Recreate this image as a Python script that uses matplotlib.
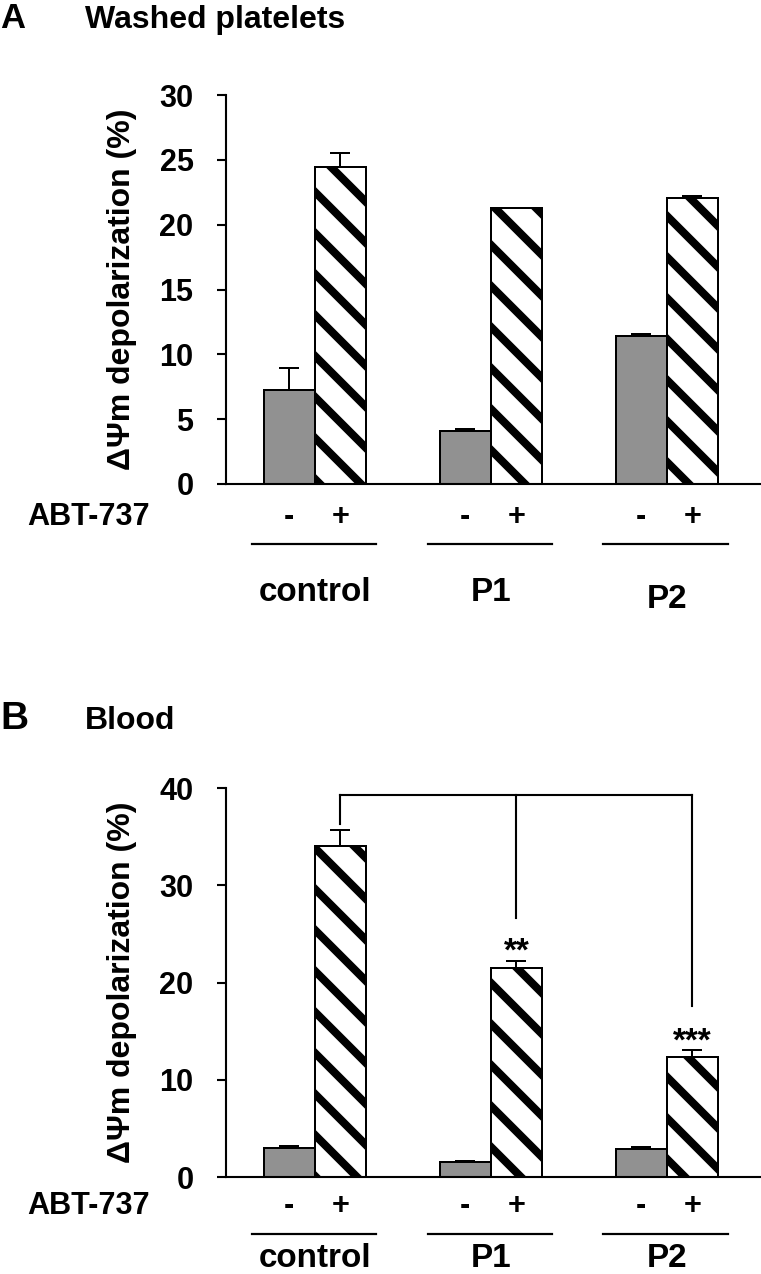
import numpy as np
import matplotlib
matplotlib.use("Agg")
import matplotlib.pyplot as plt
from matplotlib.transforms import blended_transform_factory

# values
groups = ["control", "P1", "P2"]
treat_labels = ["-", "+"]

wash_minus = [7.25, 4.12, 11.4]
wash_minus_err = [1.7, 0.15, 0.18]
wash_plus = [24.45, 21.28, 22.03]
wash_plus_err = [1.05, 0.03, 0.15]

blood_minus = [3.0, 1.5, 2.9]
blood_minus_err = [0.15, 0.2, 0.2]
blood_plus = [34.0, 21.5, 12.3]
blood_plus_err = [1.7, 0.75, 0.75]

bracket_top = 39.3
bracket_drops = [36.3, 26.6, 17.6]
stars = ["", "**", "***"]

# dpi chosen so the hatch spacing matches the reference
DPI = 246
W, H = 761, 1274


def pt(px):
    """pixels -> points at the output dpi"""
    return px * 72.0 / DPI


plt.rcParams["font.family"] = ["Liberation Sans", "DejaVu Sans"]
plt.rcParams["font.weight"] = "bold"
plt.rcParams["hatch.linewidth"] = pt(8)
plt.rcParams["hatch.color"] = "black"

GRAY = "#919191"
BW = 0.29
YLABEL = "\u0394\u03a8m depolarization (%)"

fig = plt.figure(figsize=(W / DPI, H / DPI), dpi=DPI, facecolor="white")
ax_a = fig.add_axes([0.297, 0.6201, 0.703, 0.3053])
ax_b = fig.add_axes([0.297, 0.0761, 0.703, 0.3053])


def draw_panel(ax, minus, minus_err, plus, plus_err, ymax, ystep,
               y_abt, y_line, y_grp):
    x = np.arange(len(groups))
    xm = x - BW / 2
    xp = x + BW / 2
    ax.bar(xm, minus, width=BW, color=GRAY, edgecolor="black", linewidth=pt(2), zorder=2)
    ax.bar(xp, plus, width=BW, color="white", edgecolor="black", linewidth=pt(2),
           hatch="\\\\", zorder=2)
    ax.errorbar(xm, minus, yerr=[np.zeros(len(x)), minus_err], fmt="none",
                ecolor="black", elinewidth=pt(2), capsize=pt(10), capthick=pt(2), zorder=3)
    ax.errorbar(xp, plus, yerr=[np.zeros(len(x)), plus_err], fmt="none",
                ecolor="black", elinewidth=pt(2), capsize=pt(10), capthick=pt(2), zorder=3)

    ax.set_xlim(-0.505, 2.535)
    ax.set_ylim(0, ymax)
    ax.set_yticks(np.arange(0, ymax + 1, ystep))
    ax.set_xticks([])
    for s in ["top", "right"]:
        ax.spines[s].set_visible(False)
    for s in ["left", "bottom"]:
        ax.spines[s].set_linewidth(pt(2.1))
    ax.tick_params(axis="y", direction="out", length=pt(9), width=pt(2.1), pad=pt(23.5),
                   labelsize=pt(30.6))
    for lab in ax.get_yticklabels():
        lab.set_fontweight("bold")
    ax.set_ylabel(YLABEL, fontsize=pt(32), fontweight="bold", va="center")
    ax.yaxis.set_label_coords(-0.195, 0.5)

    tr = blended_transform_factory(ax.transData, ax.transAxes)
    ax.text(-0.372, y_abt, "ABT-737", transform=ax.transAxes, ha="left",
            va="center", fontsize=pt(30.6), fontweight="bold")
    for i, g in enumerate(groups):
        ax.text(xm[i], y_abt, treat_labels[0], transform=tr, ha="center",
                va="center", fontsize=pt(30.6), fontweight="bold")
        ax.text(xp[i], y_abt, treat_labels[1], transform=tr, ha="center",
                va="center", fontsize=pt(30.6), fontweight="bold")
        ax.plot([x[i] - 0.36, x[i] + 0.35], [y_line, y_line], transform=tr,
                color="black", linewidth=pt(2.2), clip_on=False)
        ax.text(x[i], y_grp[i], g, transform=tr, ha="center", va="center",
                fontsize=pt(33.3), fontweight="bold")
    return xp


draw_panel(ax_a, wash_minus, wash_minus_err, wash_plus, wash_plus_err, 30, 5,
           -0.085, -0.154, [-0.28, -0.28, -0.298])
xp_b = draw_panel(ax_b, blood_minus, blood_minus_err, blood_plus, blood_plus_err, 40, 10,
                  -0.074, -0.147, [-0.21, -0.21, -0.21])

# significance bracket in panel B
ax_b.plot([xp_b[0], xp_b[-1]], [bracket_top, bracket_top], color="black",
          linewidth=pt(2.1), clip_on=False, zorder=4)
for i, drop in enumerate(bracket_drops):
    ax_b.plot([xp_b[i], xp_b[i]], [bracket_top, drop], color="black",
              linewidth=pt(2.1), clip_on=False, zorder=4)
    if stars[i]:
        ax_b.annotate(stars[i], xy=(xp_b[i], blood_plus[i] + blood_plus_err[i]),
                      xytext=(0, 0), textcoords="offset points", ha="center",
                      va="baseline", fontsize=pt(33.3), fontweight="bold")

fig.text(0.0, 0.978, "A", ha="left", va="baseline", fontsize=pt(34.7), fontweight="bold")
fig.text(0.112, 0.978, "Washed platelets", ha="left", va="baseline", fontsize=pt(32),
         fontweight="bold")
fig.text(0.0, 0.4278, "B", ha="left", va="baseline", fontsize=pt(38.9), fontweight="bold")
fig.text(0.112, 0.4278, "Blood", ha="left", va="baseline", fontsize=pt(32),
         fontweight="bold")

fig.savefig("out.png", dpi=DPI, facecolor="white")
